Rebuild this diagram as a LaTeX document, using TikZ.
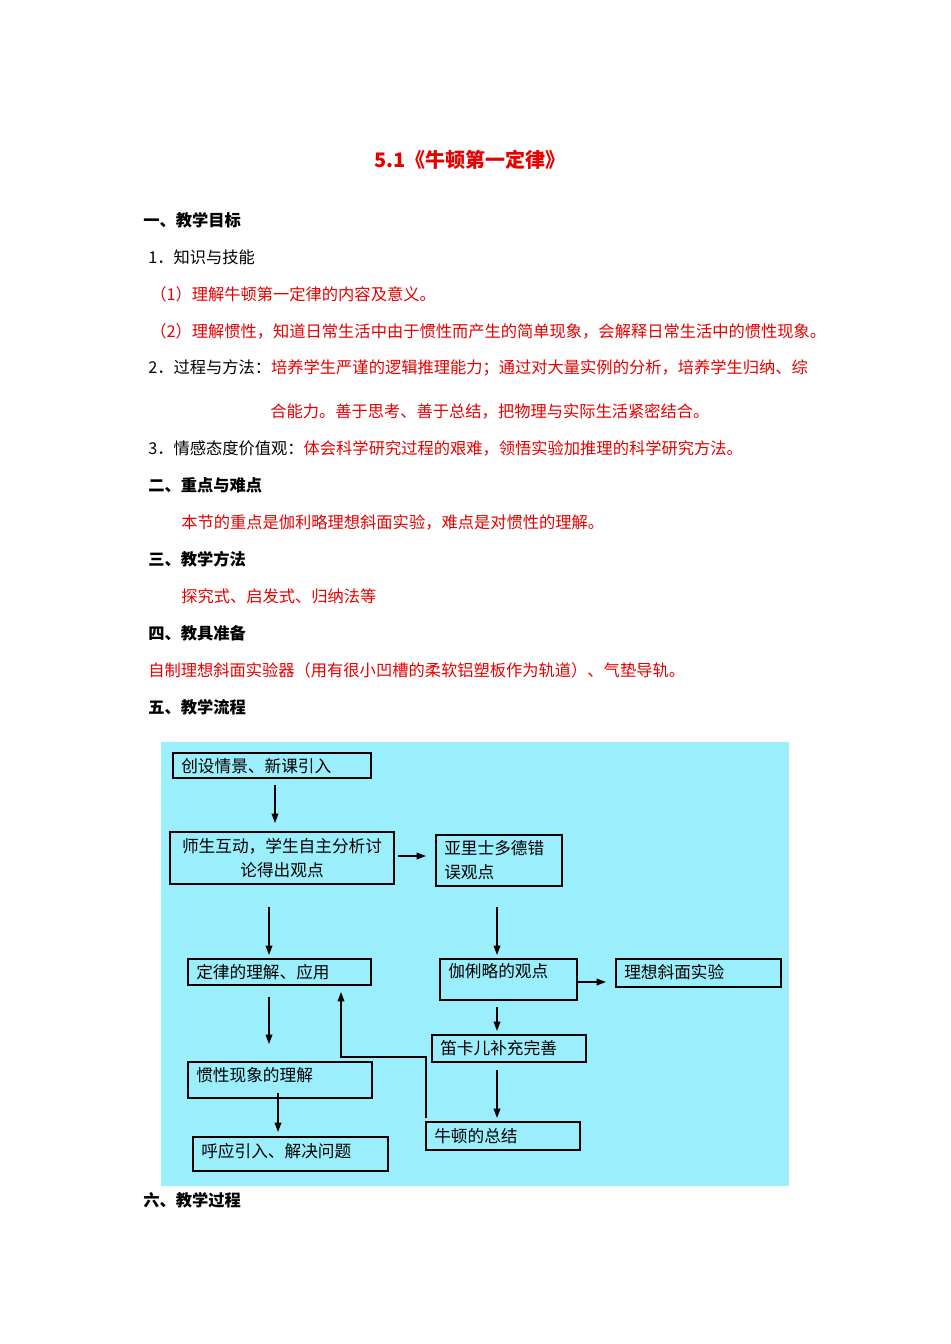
\documentclass[tikz,border=0pt]{standalone}
\usepackage{fontspec}
\setmainfont{Noto Sans CJK SC}
\usetikzlibrary{fit,arrows.meta}
\definecolor{rd}{RGB}{230,0,0}
\definecolor{bg}{RGB}{155,238,252}
\begin{document}
\begin{tikzpicture}[x=0.75pt,y=-0.75pt,
  txt/.style={anchor=west,inner sep=0,font=\fontsize{12.2}{14}\selectfont},
  hd/.style={txt,font=\fontsize{12.2}{14}\selectfont\bfseries},
  red/.style={txt,text=rd},
  bx/.style={draw,line width=1pt,inner sep=0},
  bt/.style={anchor=west,inner sep=0,font=\fontsize{12.5}{18}\selectfont},
  arr/.style={-{Triangle[length=7pt,width=5pt]},line width=1pt}]
\useasboundingbox (0,0) rectangle (950,1344);
\fill[white] (0,0) rectangle (950,1344);
\node[inner sep=0,text=rd,font=\fontsize{15}{18}\selectfont\bfseries] (title) at (470,160) {5.1《牛顿第一定律》};
\node[hd] (h1) at (143,220) {一、教学目标};
\node[txt] (l1) at (148,257) {1．知识与技能};
\node[red] (l2) at (150,294) {（1）理解牛顿第一定律的内容及意义。};
\node[red] (l3) at (150,331) {（2）理解惯性，知道日常生活中由于惯性而产生的简单现象，会解释日常生活中的惯性现象。};
\node[txt] (l4) at (148,368) {2．过程与方法：\textcolor{rd}{培养学生严谨的逻辑推理能力；通过对大量实例的分析，培养学生归纳、综}};
\node[red] (l5) at (270,411) {合能力。善于思考、善于总结，把物理与实际生活紧密结合。};
\node[txt] (l6) at (148,448) {3．情感态度价值观：\textcolor{rd}{体会科学研究过程的艰难，领悟实验加推理的科学研究方法。}};
\node[hd] (h2) at (148,485) {二、重点与难点};
\node[red] (l7) at (181,522) {本节的重点是伽利略理想斜面实验，难点是对惯性的理解。};
\node[hd] (h3) at (148,559) {三、教学方法};
\node[red] (l8) at (181,596) {探究式、启发式、归纳法等};
\node[hd] (h4) at (148,633) {四、教具准备};
\node[red] (l9) at (148,670) {自制理想斜面实验器（用有很小凹槽的柔软铝塑板作为轨道）、气垫导轨。};
\node[hd] (h5) at (148,707) {五、教学流程};
\node[hd] (h6) at (143,1200) {六、教学过程};
\fill[bg] (161,742) rectangle (789,1186);
\newcommand\bxx[5]{\path (#2,#3) coordinate (#1nw) (#4,#5) coordinate (#1se);
  \node[bx,fit=(#1nw)(#1se)] (#1) {};}
\bxx{b1}{173}{753}{371}{778}
\bxx{b2}{170}{832}{394}{884}
\bxx{b3}{436}{835}{562}{886}
\bxx{b4}{188}{959}{371}{985}
\bxx{b5}{440}{959}{577}{1000}
\bxx{b6}{616}{959}{781}{987}
\bxx{b7}{432}{1035}{586}{1062}
\bxx{b8}{188}{1062}{372}{1098}
\bxx{b9}{193}{1137}{388}{1171}
\bxx{b10}{426}{1122}{580}{1150}
\node[bt] (t1) at (181,766) {创设情景、新课引入};
\node[bt,anchor=center,align=center] (t2) at (282,858) {师生互动，学生自主分析讨\\论得出观点};
\node[bt,align=left] (t3) at (444,860) {亚里士多德错\\误观点};
\node[bt] (t4) at (196,972) {定律的理解、应用};
\node[bt] (t5) at (448,971) {伽俐略的观点};
\node[bt] (t6) at (624,972) {理想斜面实验};
\node[bt] (t7) at (440,1048) {笛卡儿补充完善};
\node[bt] (t8) at (196,1075) {惯性现象的理解};
\node[bt] (t9) at (201,1151) {呼应引入、解决问题};
\node[bt] (t10) at (434,1136) {牛顿的总结};
\coordinate (a1) at (275,785); \coordinate (a1e) at (275,823);
\coordinate (a2) at (398,856); \coordinate (a2e) at (426,856);
\coordinate (a3) at (269,907); \coordinate (a3e) at (269,955);
\coordinate (a4) at (497,907); \coordinate (a4e) at (497,955);
\coordinate (a5) at (269,997); \coordinate (a5e) at (269,1044);
\coordinate (a6) at (577,982); \coordinate (a6e) at (606,982);
\coordinate (a7) at (497,1007); \coordinate (a7e) at (497,1031);
\coordinate (a8) at (497,1070); \coordinate (a8e) at (497,1118);
\coordinate (a9) at (278,1093); \coordinate (a9e) at (278,1132);
\coordinate (f1) at (426,1118); \coordinate (f2) at (341,992);
\draw[arr] (a1)--(a1e); \draw[arr] (a2)--(a2e); \draw[arr] (a3)--(a3e);
\draw[arr] (a4)--(a4e); \draw[arr] (a5)--(a5e); \draw[arr] (a6)--(a6e);
\draw[arr] (a7)--(a7e); \draw[arr] (a8)--(a8e); \draw[arr] (a9)--(a9e);
\draw[arr] (f1)--(426,1057)--(341,1057)--(f2);
\end{tikzpicture}
\end{document}
